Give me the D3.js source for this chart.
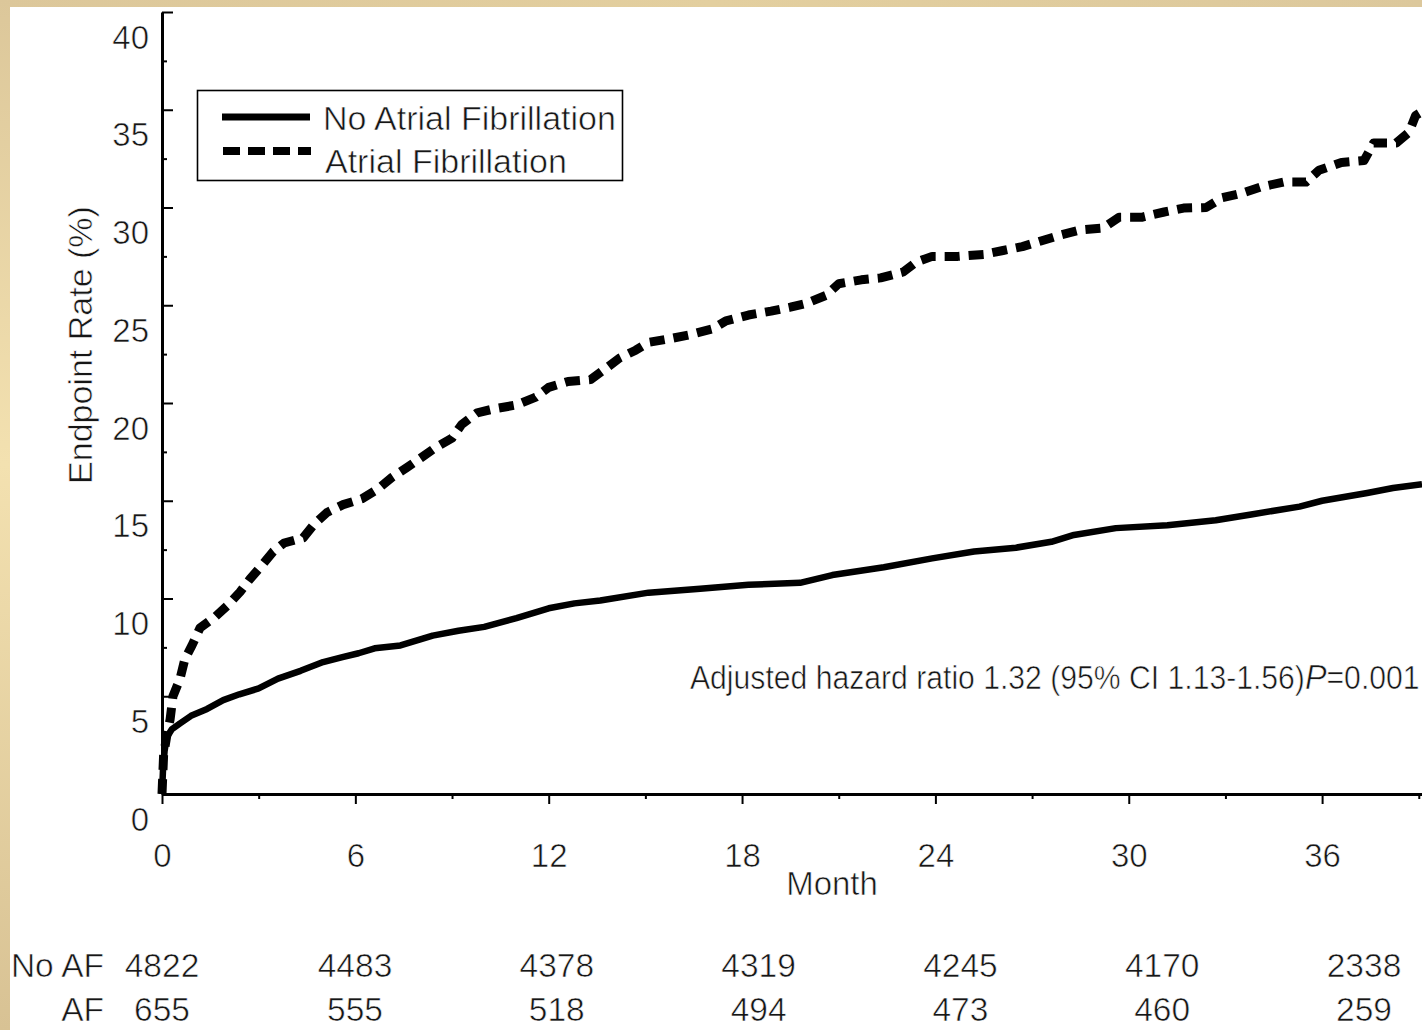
<!DOCTYPE html>
<html>
<head>
<meta charset="utf-8">
<script src="https://cdn.jsdelivr.net/npm/d3@7"></script>
<style>
  html, body { margin: 0; padding: 0; background: #fff; }
  svg { display: block; }
  text { font-family: "Liberation Sans", Arial, sans-serif; fill: #161616; stroke: #fff; stroke-width: 0.6px; }
</style>
</head>
<body>
<svg id="chart" width="1422" height="1030"></svg>
<script>
// Kaplan-Meier style cumulative endpoint rates (%), by month of follow-up
const noAfMonth = [0, 0.03, 0.08, 0.15, 0.3, 0.55, 0.9, 1.4, 1.9, 2.4, 3.0, 3.6, 4.3, 5.0, 5.6, 6.1, 6.6, 7.4, 8.4, 9.2, 10.0, 11.0, 12.0, 12.8, 13.6, 15.1, 16.7, 18.2, 19.8, 20.8, 22.4, 23.9, 25.2, 26.5, 27.6, 28.3, 29.6, 31.2, 32.7, 33.8, 35.3, 36.0, 37.4, 38.2, 39.1];
const noAfRate  = [0, 1.2, 2.2, 2.9, 3.3, 3.6, 4.0, 4.35, 4.8, 5.1, 5.4, 5.9, 6.3, 6.75, 7.0, 7.2, 7.45, 7.6, 8.1, 8.35, 8.55, 9.0, 9.5, 9.75, 9.9, 10.3, 10.5, 10.7, 10.8, 11.2, 11.6, 12.05, 12.4, 12.6, 12.9, 13.25, 13.6, 13.75, 14.0, 14.3, 14.7, 15.0, 15.4, 15.65, 15.85];

const afMonth = [0, 0.05, 0.15, 0.25, 0.34, 0.56, 0.71, 0.93, 1.18, 1.64, 2.05, 2.42, 2.73, 3.1, 3.45, 3.79, 4.38, 4.72, 5.12, 5.62, 6.2, 6.7, 7.14, 7.6, 8.04, 8.47, 9.0, 9.3, 9.78, 10.3, 11.0, 11.6, 12.0, 12.6, 13.3, 13.8, 14.2, 14.7, 15.1, 15.8, 16.4, 17.1, 17.5, 18.2, 18.9, 19.5, 20.0, 20.6, 21.0, 21.7, 22.3, 23.0, 23.4, 23.9, 24.7, 25.5, 26.1, 26.7, 27.3, 27.9, 28.5, 29.2, 29.7, 30.4, 31.1, 31.7, 32.4, 32.9, 33.55, 34.1, 34.8, 35.5, 35.9, 36.6, 37.3, 37.6, 38.3, 38.7, 38.9, 39.1];
const afRate  = [0, 2.0, 3.0, 3.8, 5.0, 5.9, 6.9, 7.6, 8.5, 9.05, 9.67, 10.33, 11.0, 11.7, 12.4, 12.84, 13.1, 13.8, 14.4, 14.8, 15.1, 15.6, 16.2, 16.7, 17.2, 17.7, 18.2, 18.9, 19.5, 19.7, 19.9, 20.3, 20.8, 21.1, 21.2, 21.8, 22.3, 22.7, 23.1, 23.3, 23.5, 23.8, 24.2, 24.5, 24.7, 24.9, 25.1, 25.5, 26.1, 26.3, 26.4, 26.7, 27.2, 27.5, 27.5, 27.6, 27.8, 28.0, 28.3, 28.6, 28.85, 28.95, 29.5, 29.5, 29.77, 29.97, 30.0, 30.5, 30.75, 31.05, 31.3, 31.3, 31.9, 32.3, 32.4, 33.3, 33.3, 33.85, 34.7, 34.9];

// Axis ticks
const xMajorTicks = [0, 6, 12, 18, 24, 30, 36];
const xMinorTicks = [3, 9, 15, 21, 27, 33, 39];
const yMajorTicks = [0, 5, 10, 15, 20, 25, 30, 35, 40];
const yMinorTicks = [2.5, 7.5, 12.5, 17.5, 22.5, 27.5, 32.5, 37.5];

// Numbers at risk
const riskMonth = [0, 6, 12, 18, 24, 30, 36];
const noAfRisk = [4822, 4483, 4378, 4319, 4245, 4170, 2338];
const afRisk = [655, 555, 518, 494, 473, 460, 259];
const riskRows = ["No AF", "AF"];

const seriesNames = ["No Atrial Fibrillation", "Atrial Fibrillation"];

const W = 1422, H = 1030;
const svg = d3.select("#chart");

// Beige slide frame
const defs = svg.append("defs");
const gl = defs.append("linearGradient").attr("id", "frameLeft")
  .attr("x1", 0).attr("y1", 0).attr("x2", 0).attr("y2", 1);
gl.append("stop").attr("offset", "0%").attr("stop-color", "#dcc79a");
gl.append("stop").attr("offset", "45%").attr("stop-color", "#f3e1b0");
gl.append("stop").attr("offset", "100%").attr("stop-color", "#d8c294");
const gt = defs.append("linearGradient").attr("id", "frameTop")
  .attr("x1", 0).attr("y1", 0).attr("x2", 1).attr("y2", 0);
gt.append("stop").attr("offset", "0%").attr("stop-color", "#dcc79a");
gt.append("stop").attr("offset", "50%").attr("stop-color", "#e3cf9f");
gt.append("stop").attr("offset", "100%").attr("stop-color", "#dcc89c");

svg.append("rect").attr("width", W).attr("height", H).attr("fill", "url(#frameTop)");
svg.append("rect").attr("x", 0).attr("y", 0).attr("width", 10).attr("height", H).attr("fill", "url(#frameLeft)");
svg.append("rect").attr("x", 10).attr("y", 7).attr("width", W - 10).attr("height", H - 7).attr("fill", "#fff");

// Scales
const x = d3.scaleLinear().domain([0, 39.1]).range([162, 1422]);
const y = d3.scaleLinear().domain([0, 40]).range([794, 12]);
const riskX = d3.scaleLinear().domain([0, 6, 36]).range([162, 355, 1364]);

const fontSize = 33;
const fontFamily = '"Liberation Sans", Arial, sans-serif';

// Y axis: inward ticks, labels to the left set slightly below each tick
const yMinor = svg.append("g").attr("transform", `translate(${x(0)},0)`)
  .call(d3.axisRight(y).tickValues(yMinorTicks).tickSize(5).tickFormat(""));
yMinor.select(".domain").remove();
yMinor.selectAll("line").attr("stroke", "#000").attr("stroke-width", 2);

const yMajor = svg.append("g").attr("transform", `translate(${x(0)},0)`)
  .call(d3.axisRight(y).tickValues(yMajorTicks).tickSize(11).tickSizeOuter(0).tickFormat(""));
yMajor.select(".domain").attr("stroke", "#000").attr("stroke-width", 3);
yMajor.selectAll("line").attr("stroke", "#000").attr("stroke-width", 2);

const yLabels = svg.append("g").attr("transform", `translate(${x(0)},0)`)
  .call(d3.axisLeft(y).tickValues(yMajorTicks).tickSize(0).tickPadding(13));
yLabels.select(".domain").remove();
yLabels.selectAll("text")
  .attr("dy", null).attr("y", 36)
  .style("font-size", fontSize + "px").style("font-family", fontFamily)
  .attr("fill", "#161616");

// X axis
const xMinor = svg.append("g").attr("transform", `translate(0,${y(0)})`)
  .call(d3.axisBottom(x).tickValues(xMinorTicks).tickSize(5).tickFormat(""));
xMinor.select(".domain").remove();
xMinor.selectAll("line").attr("stroke", "#000").attr("stroke-width", 2);

const xMajor = svg.append("g").attr("transform", `translate(0,${y(0)})`)
  .call(d3.axisBottom(x).tickValues(xMajorTicks).tickSize(10).tickSizeOuter(0).tickPadding(40));
xMajor.select(".domain").attr("stroke", "#000").attr("stroke-width", 3);
xMajor.selectAll("line").attr("stroke", "#000").attr("stroke-width", 2);
xMajor.selectAll("text")
  .style("font-size", fontSize + "px").style("font-family", fontFamily)
  .attr("fill", "#161616");

// Axis titles
svg.append("text")
  .attr("transform", `translate(92,345) rotate(-90)`)
  .attr("text-anchor", "middle")
  .style("font-size", "34px")
  .text("Endpoint Rate (%)");

svg.append("text")
  .attr("x", 832).attr("y", 895)
  .attr("text-anchor", "middle")
  .style("font-size", fontSize + "px")
  .text("Month");

// Curves
const line = d3.line().x(d => x(d[0])).y(d => y(d[1])).curve(d3.curveLinear);
const noAfData = noAfMonth.map((m, i) => [m, noAfRate[i]]);
const afData = afMonth.map((m, i) => [m, afRate[i]]);

svg.append("path").datum(afData)
  .attr("d", line)
  .attr("fill", "none").attr("stroke", "#000")
  .attr("stroke-width", 9).attr("stroke-dasharray", "15,9")
  .attr("stroke-linejoin", "round");

svg.append("path").datum(noAfData)
  .attr("d", line)
  .attr("fill", "none").attr("stroke", "#000")
  .attr("stroke-width", 6.5)
  .attr("stroke-linejoin", "round");

// Legend
const legend = svg.append("g");
legend.append("rect")
  .attr("x", 197.5).attr("y", 90.5).attr("width", 425).attr("height", 90)
  .attr("fill", "#fff").attr("stroke", "#000").attr("stroke-width", 1.6);
legend.append("line")
  .attr("x1", 222).attr("x2", 310).attr("y1", 117).attr("y2", 117)
  .attr("stroke", "#000").attr("stroke-width", 7);
legend.append("line")
  .attr("x1", 223).attr("x2", 311).attr("y1", 151).attr("y2", 151)
  .attr("stroke", "#000").attr("stroke-width", 8).attr("stroke-dasharray", "17,8");
legend.selectAll("text.lab").data(seriesNames).join("text")
  .attr("class", "lab")
  .attr("x", (d, i) => i === 0 ? 323 : 325)
  .attr("y", (d, i) => i === 0 ? 130 : 173)
  .style("font-size", "34px")
  .text(d => d);

// Hazard ratio annotation: one condensed line with an italic P
const note = svg.append("text")
  .attr("transform", "translate(690,689) scale(0.9,1)")
  .style("font-size", "33.5px");
note.append("tspan").text("Adjusted hazard ratio 1.32 (95% CI 1.13-1.56)");
note.append("tspan").style("font-style", "italic").style("font-size", "36px").text("P");
note.append("tspan").text("=0.001");

// Numbers at risk table
const riskData = [noAfRisk, afRisk];
const rowBaseline = [977, 1021];
riskRows.forEach((name, r) => {
  svg.append("text")
    .attr("x", 104).attr("y", rowBaseline[r])
    .attr("text-anchor", "end")
    .style("font-size", "33.5px")
    .text(name);
  svg.selectAll(null).data(riskData[r]).join("text")
    .attr("x", (d, i) => riskX(riskMonth[i]))
    .attr("y", rowBaseline[r])
    .attr("text-anchor", "middle")
    .style("font-size", "33.5px")
    .text(d => d);
});
</script>
</body>
</html>
